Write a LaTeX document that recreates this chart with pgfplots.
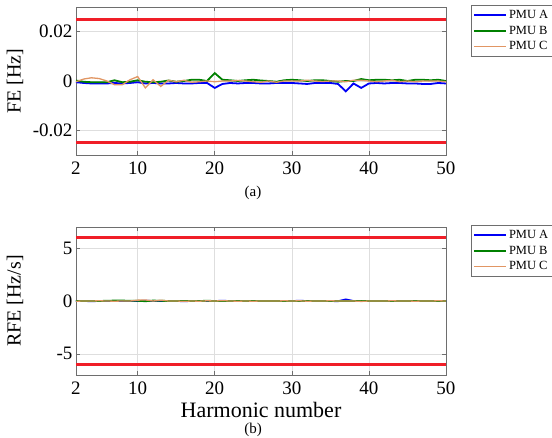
\documentclass[border=0pt]{standalone}
\usepackage{fontspec}
\setmainfont{Liberation Serif}
\usepackage{pgfplots}
\pgfplotsset{compat=1.18}
\usepackage{pgfplotstable}
\definecolor{pmuA}{RGB}{0,0,245}
\definecolor{pmuB}{RGB}{0,128,0}
\definecolor{pmuC}{RGB}{225,150,100}
\definecolor{lim}{RGB}{240,30,40}
\definecolor{frame}{RGB}{110,110,110}
\definecolor{gridc}{RGB}{222,222,222}

\pgfplotstableread{
x a b c
2 -0.0005 0.0002 -0.0003
3 -0.0008 -0.0003 0.0008
4 -0.0010 -0.0005 0.0013
5 -0.0010 -0.0005 0.0010
6 -0.0010 -0.0005 0.0000
7 -0.0008 0.0003 -0.0015
8 -0.0010 -0.0005 -0.0015
9 -0.0008 -0.0003 0.0005
10 -0.0005 0.0003 0.0018
11 -0.0010 -0.0003 -0.0028
12 -0.0008 -0.0005 0.0005
13 -0.0010 -0.0003 -0.0022
14 -0.0010 0.0002 0.0003
15 -0.0008 -0.0003 -0.0003
16 -0.0010 0.0000 0.0003
17 -0.0010 0.0005 -0.0005
18 -0.0008 0.0005 -0.0003
19 -0.0008 0.0000 0.0000
20 -0.0028 0.0032 -0.0003
21 -0.0012 0.0005 0.0000
22 -0.0008 0.0003 0.0000
23 -0.0010 0.0000 0.0002
24 -0.0008 0.0003 0.0000
25 -0.0008 0.0005 -0.0003
26 -0.0010 0.0002 -0.0005
27 -0.0010 0.0000 0.0000
28 -0.0008 -0.0003 -0.0005
29 -0.0008 0.0003 0.0000
30 -0.0008 0.0005 0.0000
31 -0.0010 0.0003 0.0000
32 -0.0012 0.0000 0.0003
33 -0.0008 0.0003 0.0000
34 -0.0008 0.0003 -0.0002
35 -0.0008 0.0000 0.0000
36 -0.0012 -0.0003 0.0000
37 -0.0042 0.0000 -0.0003
38 -0.0010 0.0000 0.0003
39 -0.0028 0.0008 0.0003
40 -0.0010 0.0003 0.0000
41 -0.0008 0.0005 -0.0003
42 -0.0010 0.0005 0.0000
43 -0.0008 0.0003 0.0003
44 -0.0008 0.0005 -0.0003
45 -0.0010 0.0000 0.0000
46 -0.0010 0.0005 -0.0003
47 -0.0012 0.0005 0.0000
48 -0.0012 0.0003 0.0000
49 -0.0008 0.0005 0.0000
50 -0.0010 0.0000 -0.0003
}\fetable

\pgfplotstableread{
x a b c
2 0.00 0.00 -0.02
3 0.00 0.00 0.00
4 -0.02 0.00 0.00
5 0.00 0.00 0.02
6 0.00 0.02 0.00
7 0.00 0.04 -0.02
8 0.00 0.04 0.00
9 0.00 0.02 0.00
10 0.00 0.02 0.08
11 0.02 -0.02 0.10
12 0.00 0.04 0.00
13 0.00 0.02 0.08
14 0.00 0.00 0.00
15 0.00 0.00 0.00
16 -0.02 0.00 -0.03
17 0.00 0.00 0.00
18 0.00 0.00 -0.02
19 0.00 0.02 0.02
20 0.00 0.00 0.00
21 0.02 0.00 0.03
22 0.00 0.00 0.00
23 0.00 0.00 -0.02
24 0.00 0.00 0.00
25 0.00 0.00 -0.02
26 0.00 0.00 0.00
27 0.00 0.00 0.00
28 0.00 0.00 0.00
29 0.00 0.00 0.02
30 0.00 0.00 0.00
31 0.02 0.00 0.02
32 0.00 0.00 -0.02
33 0.00 0.00 0.00
34 0.00 0.00 0.00
35 0.00 0.00 0.02
36 -0.02 0.00 0.00
37 0.15 0.00 0.00
38 0.00 0.00 0.00
39 0.00 0.00 -0.04
40 0.00 0.00 0.00
41 0.00 0.00 0.00
42 0.00 0.00 0.00
43 0.00 0.00 0.02
44 0.00 0.00 0.00
45 0.00 0.00 0.00
46 0.00 0.00 -0.02
47 0.00 0.00 0.00
48 0.00 0.00 0.00
49 0.00 0.00 0.02
50 0.00 0.00 0.00
}\rfetable

\pgfplotsset{
  legend image code/.code={\draw[#1] (0pt,0pt) -- (32pt,0pt);},
  myaxis/.style={
    scale only axis, width=370pt, height=148pt,
    anchor=south west,
    xmin=2, xmax=50,
    xtick={2,10,20,30,40,50},
    scaled y ticks=false,
    axis line style={frame, line width=0.8pt},
    tick style={frame, line width=0.6pt},
    tick align=inside, major tick length=4pt,
    grid=major, grid style={gridc, line width=0.6pt},
    ticklabel style={font=\fontsize{19}{19}\selectfont, black},
    xticklabel style={yshift=-3pt},
    /pgf/number format/assume math mode=true,
    label style={font=\fontsize{20}{20}\selectfont},
    ylabel style={at={(rel axis cs:-0.165,0.5)}, anchor=center},
    legend style={font=\fontsize{12.5}{14}\selectfont, draw=frame,
      at={(1,1)}, anchor=north west, xshift=25pt, yshift=2pt,
      inner xsep=2pt, inner ysep=3pt, row sep=2pt, legend cell align=left},
    clip=true,
  }
}

\begin{document}
\begin{tikzpicture}
\useasboundingbox (0pt,0pt) rectangle (552pt,437pt);
\begin{axis}[myaxis, name=top, at={(76pt,282pt)},
  ymin=-0.03, ymax=0.03, ytick={-0.02,0,0.02},
  yticklabels={-0.02,0,0.02},
  ylabel={FE [Hz]}]
\addplot[pmuA, line width=1.8pt] table[x=x,y=a] {\fetable};
\addlegendentry{PMU A}
\addplot[pmuB, line width=1.8pt] table[x=x,y=b] {\fetable};
\addlegendentry{PMU B}
\addplot[pmuC, line width=1.3pt] table[x=x,y=c] {\fetable};
\addlegendentry{PMU C}
\addplot[lim, line width=2.4pt, forget plot] coordinates {(2,0.025) (50,0.025)};
\addplot[lim, line width=2.4pt, forget plot] coordinates {(2,-0.025) (50,-0.025)};
\end{axis}
\node[font=\fontsize{15}{15}\selectfont] at (253pt,244pt) {(a)};
\begin{axis}[myaxis, name=bot, at={(76pt,62pt)},
  ymin=-7, ymax=7, ytick={-5,0,5},
  ylabel={RFE [Hz/s]},
  xlabel={Harmonic number}, xlabel style={font=\fontsize{22}{22}\selectfont, at={(rel axis cs:0.5,-0.237)}, anchor=center}]
\addplot[pmuA, line width=1.8pt] table[x=x,y=a] {\rfetable};
\addlegendentry{PMU A}
\addplot[pmuB, line width=1.8pt] table[x=x,y=b] {\rfetable};
\addlegendentry{PMU B}
\addplot[pmuC, line width=1.3pt] table[x=x,y=c] {\rfetable};
\addlegendentry{PMU C}
\addplot[lim, line width=2.4pt, forget plot] coordinates {(2,6) (50,6)};
\addplot[lim, line width=2.4pt, forget plot] coordinates {(2,-6) (50,-6)};
\end{axis}
\node[font=\fontsize{15}{15}\selectfont] at (253pt,7pt) {(b)};
\end{tikzpicture}
\end{document}
